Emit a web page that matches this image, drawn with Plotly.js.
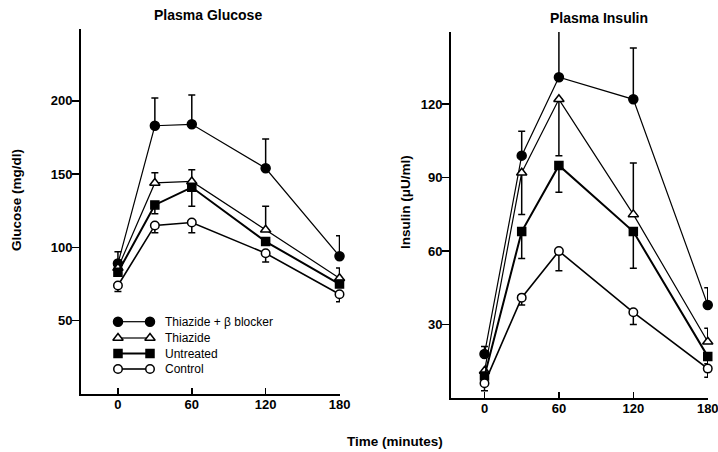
<!DOCTYPE html>
<html>
<head>
<meta charset="utf-8">
<script src="https://cdn.plot.ly/plotly-3.0.1.min.js"></script>
<style>html,body{margin:0;padding:0;background:#fff;}#chart{width:718px;height:452px;}</style>
</head>
<body>
<div id="chart"></div>
<script>
// ---- data ----
const times = [0, 30, 60, 120, 180];
const timeTicks = [0, 60, 120, 180];
const seriesNames = ["Thiazide + \u03b2 blocker", "Thiazide", "Untreated", "Control"];

const glucTB = [89, 183, 184, 154, 94];
const glucTBUp = [8, 19, 20, 20, 14];
const glucTBDown = [0, 0, 0, 0, 0];
const glucTh = [86, 144, 145, 112, 79];
const glucThUp = [0, 7, 8, 16, 7];
const glucThDown = [0, 0, 0, 0, 0];
const glucUn = [83, 129, 141, 104, 75];
const glucUnUp = [0, 0, 0, 0, 0];
const glucUnDown = [0, 6, 13, 0, 0];
const glucCo = [74, 115, 117, 96, 68];
const glucCoUp = [0, 0, 0, 0, 0];
const glucCoDown = [4, 5, 7, 6, 5];
const glucTicks = [50, 100, 150, 200];

const insTB = [18, 99, 131, 122, 38];
const insTBUp = [3, 10, 19, 21, 7];
const insTBDown = [0, 0, 0, 0, 0];
const insTh = [11, 92, 122, 75, 23];
const insThUp = [0, 0, 0, 21, 5.5];
const insThDown = [0, 17, 23, 0, 0];
const insUn = [9, 68, 95, 68, 17];
const insUnUp = [0, 0, 0, 0, 0];
const insUnDown = [0, 11, 11, 15, 3];
const insCo = [6, 41, 60, 35, 12];
const insCoUp = [0, 0, 0, 0, 0];
const insCoDown = [3, 3, 8, 5, 3.5];
const insTicks = [30, 60, 90, 120];

// ---- styles ----
const styles = [
  {symbol: "circle", fill: "black", size: 9, lw: 1.2},
  {symbol: "triangle-up", fill: "white", size: 9, lw: 1.2},
  {symbol: "square", fill: "black", size: 8, lw: 2},
  {symbol: "circle", fill: "white", size: 8.5, lw: 1.6}
];

function mk(x, y, up, down, i, xa, ya) {
  const s = styles[i];
  return {
    x: x, y: y, xaxis: xa, yaxis: ya, type: "scatter", mode: "lines+markers",
    name: seriesNames[i], showlegend: false, cliponaxis: false, hoverinfo: "skip",
    line: {color: "black", width: s.lw},
    marker: {symbol: s.symbol, size: s.size, color: s.fill, line: {color: "black", width: 1.5}},
    error_y: {type: "data", symmetric: false, array: up, arrayminus: down,
              color: "black", thickness: 1.5, width: 3.5}
  };
}

const data = [
  mk(times, glucTB, glucTBUp, glucTBDown, 0, "x", "y"),
  mk(times, glucTh, glucThUp, glucThDown, 1, "x", "y"),
  mk(times, glucUn, glucUnUp, glucUnDown, 2, "x", "y"),
  mk(times, glucCo, glucCoUp, glucCoDown, 3, "x", "y"),
  mk(times, insTB, insTBUp, insTBDown, 0, "x2", "y2"),
  mk(times, insTh, insThUp, insThDown, 1, "x2", "y2"),
  mk(times, insUn, insUnUp, insUnDown, 2, "x2", "y2"),
  mk(times, insCo, insCoUp, insCoDown, 3, "x2", "y2")
];

// legend samples on a pixel overlay axis
const legRows = [321.7, 338, 353.5, 369];
const annotations = [];
seriesNames.forEach(function (n, i) {
  const s = styles[i];
  data.push({
    x: [118, 150], y: [legRows[i], legRows[i]], xaxis: "x3", yaxis: "y3",
    type: "scatter", mode: "lines+markers", showlegend: false, hoverinfo: "skip", cliponaxis: false,
    line: {color: "black", width: s.lw},
    marker: {symbol: s.symbol, size: s.size, color: s.fill, line: {color: "black", width: 1.5}}
  });
  annotations.push({x: 163, y: legRows[i], xref: "x3", yref: "y3", text: n, showarrow: false,
    xanchor: "left", yanchor: "middle", font: {family: "Liberation Sans, Arial", size: 12, color: "black"}});
});

const boldFont = {family: "Liberation Sans, Arial", size: 14, color: "black", weight: "bold"};
annotations.push(
  {x: 208, y: 15, xref: "x3", yref: "y3", text: "<b>Plasma Glucose</b>", showarrow: false, xanchor: "center", yanchor: "middle", font: boldFont},
  {x: 599, y: 18, xref: "x3", yref: "y3", text: "<b>Plasma Insulin</b>", showarrow: false, xanchor: "center", yanchor: "middle", font: boldFont},
  {x: 395, y: 441, xref: "x3", yref: "y3", text: "<b>Time (minutes)</b>", showarrow: false, xanchor: "center", yanchor: "middle", font: {family: "Liberation Sans, Arial", size: 13.5, color: "black"}},
  {x: 16, y: 200, xref: "x3", yref: "y3", text: "<b>Glucose (mg/dl)</b>", textangle: -90, showarrow: false, xanchor: "center", yanchor: "middle", font: {family: "Liberation Sans, Arial", size: 13.5, color: "black"}},
  {x: 405, y: 202, xref: "x3", yref: "y3", text: "<b>Insulin (\u03bcU/ml)</b>", textangle: -90, showarrow: false, xanchor: "center", yanchor: "middle", font: {family: "Liberation Sans, Arial", size: 13.5, color: "black"}}
);

const tickFont = {family: "Liberation Sans, Arial", size: 13, color: "black", weight: "bold"};
const W = 718, H = 452;
function xAx(domPx, range, anchor) {
  return {domain: [domPx[0] / W, domPx[1] / W], range: range, anchor: anchor,
    showgrid: false, zeroline: false, showline: true, linecolor: "black", linewidth: 2,
    ticks: "inside", ticklen: 6, tickwidth: 1.5, tickcolor: "black",
    tickmode: "array", tickvals: timeTicks, ticktext: timeTicks.map(String),
    ticklabeloverflow: "allow", ticklabelstandoff: -3,
    tickfont: tickFont, fixedrange: true};
}
function yAx(domPx, range, anchor, ticks) {
  return {domain: [1 - domPx[1] / H, 1 - domPx[0] / H], range: range, anchor: anchor,
    showgrid: false, zeroline: false, showline: true, linecolor: "black", linewidth: 2,
    ticks: "outside", ticklen: 7, tickwidth: 1.5, tickcolor: "black",
    tickmode: "array", tickvals: ticks, ticktext: ticks.map(String),
    ticklabelstandoff: -3,
    tickfont: tickFont, fixedrange: true};
}

const layout = {
  width: W, height: H, margin: {l: 0, r: 0, t: 0, b: 0},
  paper_bgcolor: "white", plot_bgcolor: "rgba(0,0,0,0)", showlegend: false,
  xaxis: xAx([81, 340], [-30, 180.4], "y"),
  yaxis: yAx([29, 394], [0, 249], "x", glucTicks),
  xaxis2: xAx([451, 708], [-27, 180.2], "y2"),
  yaxis2: yAx([32, 398], [0, 149.5], "x2", insTicks),
  xaxis3: {domain: [0, 1], range: [0, W], anchor: "y3", visible: false, fixedrange: true},
  yaxis3: {domain: [0, 1], range: [H, 0], anchor: "x3", visible: false, fixedrange: true},
  annotations: annotations
};

Plotly.newPlot("chart", data, layout, {staticPlot: true, displayModeBar: false});
</script>
</body>
</html>
